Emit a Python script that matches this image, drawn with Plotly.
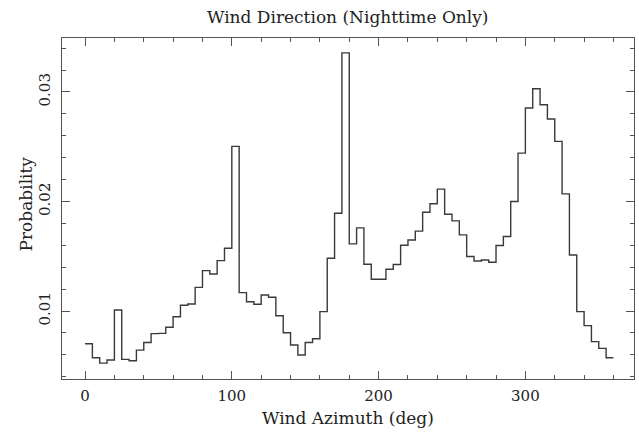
import plotly.graph_objects as go

bin_left = list(range(0, 360, 5))
probability = [
    0.00701, 0.00573, 0.00524, 0.00552, 0.01009, 0.00558, 0.00546, 0.00643,
    0.00713, 0.00793, 0.00796, 0.00851, 0.00948, 0.01052, 0.01064, 0.01216,
    0.01369, 0.01338, 0.01460, 0.01573, 0.02503, 0.01168, 0.01085, 0.01061,
    0.01146, 0.01125, 0.00957, 0.00802, 0.00689, 0.00598, 0.00713, 0.00747,
    0.00994, 0.01482, 0.01893, 0.03357, 0.01613, 0.01759, 0.01427, 0.01290,
    0.01290, 0.01381, 0.01424, 0.01600, 0.01649, 0.01729, 0.01902, 0.01979,
    0.02113, 0.01884, 0.01823, 0.01695, 0.01497, 0.01457, 0.01466, 0.01445,
    0.01598, 0.01680, 0.02000, 0.02442, 0.02854, 0.03030, 0.02884, 0.02753,
    0.02549, 0.02070, 0.01512, 0.00994, 0.00866, 0.00720, 0.00659, 0.00573,
]
bin_width = 5
x_ticks = [0, 100, 200, 300]
y_ticks = [0.01, 0.02, 0.03]

xs = bin_left + [bin_left[-1] + bin_width]
ys = probability + [probability[-1]]

FONT = "DejaVu Serif"
AX = "#555555"

fig = go.Figure(go.Scatter(x=xs, y=ys, mode="lines", line_shape="hv",
                           line=dict(color="#3a3a3a", width=1.4),
                           hoverinfo="skip"))

common = dict(showgrid=False, zeroline=False, showline=True, linecolor=AX, linewidth=1.2,
              mirror="allticks", ticks="inside", ticklen=8, tickwidth=1.2, tickcolor=AX,
              tickfont=dict(family=FONT, size=15, color="#222"))

fig.update_xaxes(range=[-15.7, 374], tickvals=x_ticks, ticktext=[str(v) for v in x_ticks],
                 minor=dict(dtick=20, tick0=0, ticks="inside", ticklen=4, tickwidth=1.2, tickcolor=AX),
                 ticklabelstandoff=3, **common)
fig.update_yaxes(range=[0.00379, 0.03493], tickvals=y_ticks, ticktext=["0.01", "0.02", "0.03"],
                 tickangle=-90,
                 minor=dict(dtick=0.002, tick0=0, ticks="inside", ticklen=4, tickwidth=1.2, tickcolor=AX),
                 ticklabelstandoff=5, **common)

fig.update_layout(
    width=639, height=432, margin=dict(l=62, r=5, t=38, b=53),
    paper_bgcolor="white", plot_bgcolor="white", showlegend=False,
    font=dict(family=FONT, color="#222"),
    annotations=[
        dict(text="Wind Direction (Nighttime Only)", xref="paper", yref="paper",
             x=0.5, y=1, yshift=21, showarrow=False, font=dict(family=FONT, size=17),
             xanchor="center", yanchor="middle"),
        dict(text="Wind Azimuth (deg)", xref="paper", yref="paper",
             x=0.5, y=0, yshift=-39, showarrow=False, font=dict(family=FONT, size=17),
             xanchor="center", yanchor="middle"),
        dict(text="Probability", xref="paper", yref="paper", textangle=-90,
             x=0, xshift=-37, y=0.5, yshift=4, showarrow=False, font=dict(family=FONT, size=17),
             xanchor="center", yanchor="middle"),
    ],
)

fig.write_html("out.html")
